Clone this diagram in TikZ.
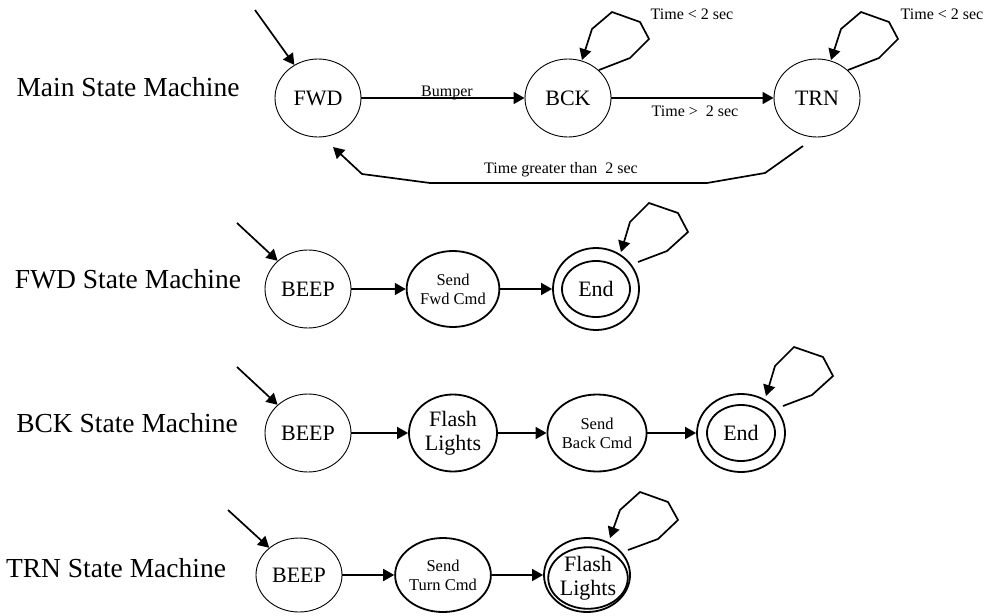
\documentclass[tikz,border=0pt]{standalone}
\usepackage{fontspec}
\setmainfont{Liberation Serif}
\usetikzlibrary{arrows.meta,calc,shapes.geometric}
\begin{document}
\begin{tikzpicture}[x=1pt,y=-1pt,
  thinstate/.style={ellipse,draw,line width=0.9pt,inner sep=0pt,align=center,font=\fontsize{22}{23.5}\selectfont},
  thickstate/.style={ellipse,draw,line width=1.8pt,inner sep=0pt,align=center,font=\fontsize{22}{23.5}\selectfont},
  innerring/.style={ellipse,draw,line width=1.8pt,inner sep=0pt,align=center,font=\fontsize{22}{23.5}\selectfont},
  arr/.style={line width=1.7pt,-{Triangle[length=11pt,width=12pt]}},
  loopline/.style={line width=1.7pt,-{Triangle[length=11pt,width=12pt]}},
  rowlabel/.style={anchor=base,font=\fontsize{27.5}{29}\selectfont},
  edgelabel/.style={anchor=base,font=\fontsize{16}{18}\selectfont},
  small/.style={font=\fontsize{16.5}{19}\selectfont}
]
\useasboundingbox (0,0) rectangle (984,615);

% ---------------- Main state machine ----------------
\node[rowlabel] (lmain) at (128,97) {Main State Machine};
\node[thinstate,minimum width=86pt,minimum height=78pt] (FWD) at (318,98) {FWD};
\node[thinstate,minimum width=86pt,minimum height=78pt] (BCK) at (568,98) {BCK};
\node[thinstate,minimum width=86pt,minimum height=78pt] (TRN) at (817,98) {TRN};
\coordinate (i1) at (255,10);
\draw[arr] (i1) -- (FWD);
\draw[arr] (FWD) -- (BCK);
\draw[arr] (BCK) -- (TRN);
\node[edgelabel] (lbump) at (447,96) {Bumper};
\node[edgelabel] (lgt) at (695,117) {Time >\ \ 2 sec};
\draw[loopline] ($(BCK)+(31,-28)$) -- ($(BCK)+(62,-40)$) -- ($(BCK)+(81,-59)$) -- ($(BCK)+(72,-76)$) -- ($(BCK)+(44,-86)$) -- ($(BCK)+(24,-69)$) -- ($(BCK)+(14,-38)$);
\draw[loopline] ($(TRN)+(31,-28)$) -- ($(TRN)+(62,-40)$) -- ($(TRN)+(81,-59)$) -- ($(TRN)+(72,-76)$) -- ($(TRN)+(44,-86)$) -- ($(TRN)+(24,-69)$) -- ($(TRN)+(14,-38)$);
\node[edgelabel] (llt1) at (692,20) {Time < 2 sec};
\node[edgelabel] (llt2) at (942,20) {Time < 2 sec};
\draw[arr] ($(TRN)+(-14,48)$) -- (765,173) -- (707,183) -- (430,183) -- (362,174) -- ($(FWD)+(15,49)$);
\node[edgelabel] (lret) at (561,173) {Time greater than\ \ 2 sec};

% ---------------- FWD state machine ----------------
\node[rowlabel] (lfwd) at (128,288) {FWD State Machine};
\node[thinstate,minimum width=86pt,minimum height=78pt] (B2) at (308,289) {BEEP};
\node[thickstate,minimum width=88pt,minimum height=76pt,small] (S2) at (453,289) {Send\\Fwd Cmd};
\node[thickstate,minimum width=86pt,minimum height=82pt] (E2) at (596,289) {};
\node[innerring,minimum width=68pt,minimum height=56pt] (E2i) at (596,289) {End};
\coordinate (i2) at (237,223);
\draw[arr] (i2) -- (B2);
\draw[arr] (B2) -- (S2);
\draw[arr] (S2) -- (E2);
\draw[loopline] ($(E2)+(42,-27)$) -- ($(E2)+(71,-38)$) -- ($(E2)+(92,-57)$) -- ($(E2)+(82,-76)$) -- ($(E2)+(53,-86)$) -- ($(E2)+(34,-67)$) -- ($(E2)+(25,-37)$);

% ---------------- BCK state machine ----------------
\node[rowlabel] (lbck) at (127,432) {BCK State Machine};
\node[thinstate,minimum width=86pt,minimum height=78pt] (B3) at (308,433) {BEEP};
\node[thickstate,minimum width=88pt,minimum height=77pt] (F3) at (453,433) {Flash\\Lights};
\node[thickstate,minimum width=88pt,minimum height=77pt,small] (S3) at (597,433) {Send\\Back Cmd};
\node[thickstate,minimum width=88pt,minimum height=78pt] (E3) at (741,433) {};
\node[innerring,minimum width=68pt,minimum height=56pt] (E3i) at (741,433) {End};
\coordinate (i3) at (237,367);
\draw[arr] (i3) -- (B3);
\draw[arr] (B3) -- (F3);
\draw[arr] (F3) -- (S3);
\draw[arr] (S3) -- (E3);
\draw[loopline] ($(E3)+(42,-27)$) -- ($(E3)+(71,-38)$) -- ($(E3)+(92,-57)$) -- ($(E3)+(82,-76)$) -- ($(E3)+(53,-86)$) -- ($(E3)+(34,-67)$) -- ($(E3)+(25,-37)$);

% ---------------- TRN state machine ----------------
\node[rowlabel] (ltrn) at (116,577) {TRN State Machine};
\node[thinstate,minimum width=86pt,minimum height=74pt] (B4) at (299,575) {BEEP};
\node[thickstate,minimum width=86pt,minimum height=74pt,small] (S4) at (443,575) {Send\\Turn Cmd};
\node[thickstate,minimum width=86pt,minimum height=74pt] (F4) at (587,575) {};
\node[innerring,minimum width=70pt,minimum height=60pt] (F4i) at (588,578) {Flash\\Lights};
\coordinate (i4) at (228,510);
\draw[arr] (i4) -- (B4);
\draw[arr] (B4) -- (S4);
\draw[arr] (S4) -- (F4);
\draw[loopline] ($(F4)+(41,-25)$) -- ($(F4)+(71,-36)$) -- ($(F4)+(91,-55)$) -- ($(F4)+(81,-73)$) -- ($(F4)+(53,-83)$) -- ($(F4)+(33,-65)$) -- ($(F4)+(23,-37)$);
\end{tikzpicture}
\end{document}
